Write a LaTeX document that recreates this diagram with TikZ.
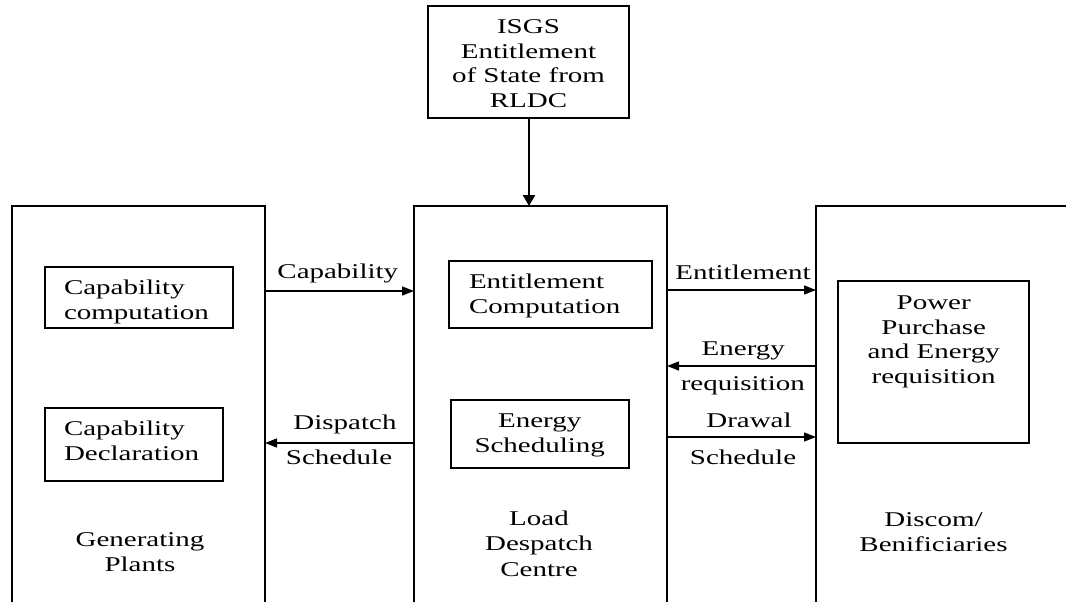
\documentclass[tikz,border=0pt]{standalone}
\usepackage{fontspec}
\setmainfont{Liberation Serif}[FakeStretch=1.38]
\usetikzlibrary{arrows.meta}
\begin{document}
\begin{tikzpicture}[x=1pt,y=-1pt,
  every node/.style={font=\fontsize{21}{24.5}\selectfont},
  frame/.style={draw, line width=1.3pt, inner sep=0pt, outer sep=0pt, anchor=north west},
  % multi-line labels are placed by the baseline of their last line
  lbl/.style={inner sep=0pt, outer sep=0pt, anchor=base, align=center},
  lblL/.style={inner sep=0pt, outer sep=0pt, anchor=base west, align=left},
  flow/.style={line width=1.3pt, -{Triangle[length=12pt,width=9pt]}},
  feed/.style={line width=2.4pt, -{Triangle[length=11pt,width=12pt]}}]
\clip (0,0) rectangle (1066,602);

% main blocks (open towards the page edges)
\node[frame, minimum width=253, minimum height=430] (gen) at (12,206) {};
\node[frame, minimum width=253, minimum height=430] (ldc) at (414,206) {};
\node[frame, minimum width=270, minimum height=430] (disc) at (816,206) {};

% top source block
\node[frame, minimum width=201, minimum height=112] (isgs) at (428,6) {};
\node[lbl] at (528.5,107) {ISGS\\Entitlement\\of State from\\RLDC};

% inner function blocks
\node[frame, minimum width=188, minimum height=61] (cc) at (45,267) {};
\node[lblL] at (64,319) {Capability\\computation};
\node[frame, minimum width=178, minimum height=73] (cd) at (45,408) {};
\node[lblL] at (64,460) {Capability\\Declaration};
\node[frame, minimum width=203, minimum height=67] (ec) at (449,261) {};
\node[lblL] at (469,313) {Entitlement\\Computation};
\node[frame, minimum width=178, minimum height=68] (es) at (451,400) {};
\node[lbl] at (539.7,452) {Energy\\Scheduling};
\node[frame, minimum width=191, minimum height=162] (pp) at (838,281) {};
\node[lbl] at (933.7,383) {Power\\Purchase\\and Energy\\requisition};

% block titles
\node[lbl] at (140,571) {Generating\\Plants};
\node[lbl, font=\fontsize{21}{25.5}\selectfont] at (539,576) {Load\\Despatch\\Centre};
\node[lbl] at (933.5,551) {Discom/\\Benificiaries};

% flows
\draw[feed] (isgs.south -| 529,0) -- (ldc.north -| 529,0);
\draw[flow] (gen.east |- 0,291) -- (ldc.west |- 0,291);
\draw[flow] (ldc.west |- 0,443) -- (gen.east |- 0,443);
\draw[flow] (ldc.east |- 0,290) -- (disc.west |- 0,290);
\draw[flow] (disc.west |- 0,366) -- (ldc.east |- 0,366);
\draw[flow] (ldc.east |- 0,437) -- (disc.west |- 0,437);

% flow labels
\node[lbl] at (337.8,278) {Capability};
\node[lbl] at (345,429) {Dispatch};
\node[lbl] at (339,464) {Schedule};
\node[lbl] at (743,279) {Entitlement};
\node[lbl] at (743.3,355) {Energy};
\node[lbl] at (742.8,390) {requisition};
\node[lbl] at (749,427) {Drawal};
\node[lbl] at (743,464) {Schedule};
\end{tikzpicture}
\end{document}
